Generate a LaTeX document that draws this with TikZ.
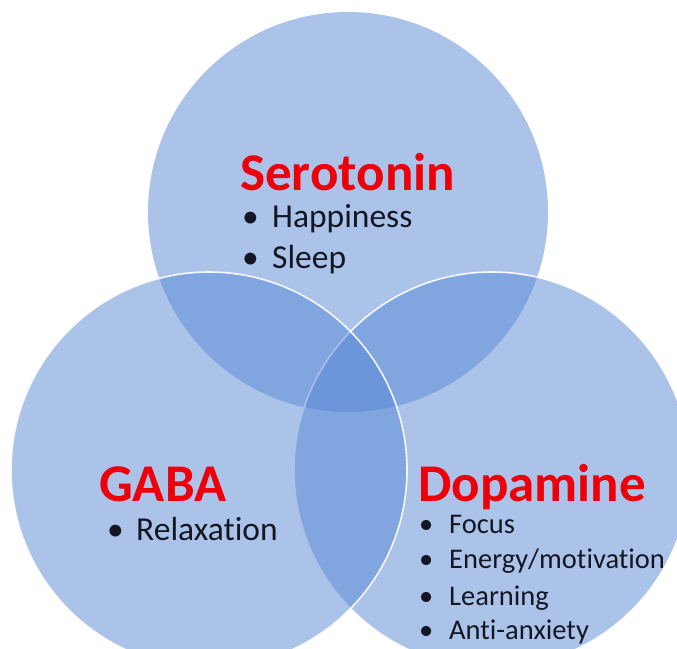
\documentclass[tikz,border=0pt]{standalone}
\usepackage{fontspec}
\setmainfont{Carlito}[Ligatures={NoCommon,NoContextual}]
\usepackage{tikz}
\usetikzlibrary{positioning}
\definecolor{vennblue}{RGB}{88,136,212}
\definecolor{headred}{RGB}{236,0,10}
\definecolor{itemtext}{RGB}{20,22,35}

\begin{document}
\begin{tikzpicture}[x=1pt,y=-1pt,
    set node/.style={circle,minimum size=400pt,inner sep=0pt,fill=vennblue,fill opacity=0.5},
    rim/.style={draw=white,line width=1.6pt,draw opacity=0.9},
    head/.style={anchor=base west,inner sep=0pt,text=headred,font=\fontsize{53}{53}\selectfont\bfseries},
    item/.style={anchor=base west,inner sep=0pt,text=itemtext,font=\fontsize{33.5}{34}\selectfont},
    small item/.style={item,font=\fontsize{28.5}{29}\selectfont}]
                        \useasboundingbox (0,0) rectangle (677,648);
                        \clip (0,0) rectangle (677,648);

                        \node[set node] (ser) at (348,212) {};
                        \node[set node,rim,minimum size=396pt] (dopa) at (492,470) {};
                        \node[set node,rim,minimum size=396pt] (gaba) at (209,470) {};

                        \node[head] (t1) at (240,190) {Serotonin};
                        \node[item] (t1a) at (242,227) {\makebox[30pt][l]{\textbullet}Happiness};
                        \node[item] (t1b) at (242,268) {\makebox[30pt][l]{\textbullet}Sleep};

                        \node[head] (t2) at (99,501) {GABA};
                        \node[item] (t2a) at (107,540) {\makebox[29pt][l]{\textbullet}Relaxation};

                        \node[head] (t3) at (418,501) {Dopamine};
                        \node[small item] (t3a) at (419,533) {\makebox[30pt][l]{\textbullet}Focus};
                        \node[small item] (t3b) at (419,568) {\makebox[30pt][l]{\textbullet}Energy/motivation};
                        \node[small item] (t3c) at (419,605) {\makebox[30pt][l]{\textbullet}Learning};
                        \node[small item] (t3d) at (419,639) {\makebox[30pt][l]{\textbullet}Anti-anxiety};
        \end{tikzpicture}
\end{document}
